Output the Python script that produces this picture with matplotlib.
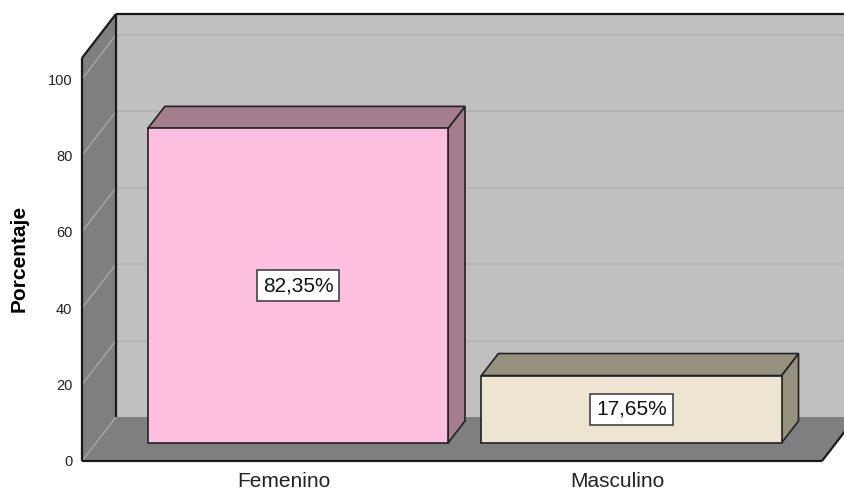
import matplotlib
matplotlib.use("Agg")
import matplotlib.pyplot as plt
from matplotlib.patches import Polygon

categories = ["Femenino", "Masculino"]
values = [82.35, 17.65]
value_labels = ["82,35%", "17,65%"]
yticks = [0, 20, 40, 60, 80, 100]

front_colors = ["#FFC0E0", "#EDE5D2"]
side_colors = ["#A47E8C", "#96917E"]

plt.rcParams['font.family'] = ['Liberation Sans', 'DejaVu Sans']

W, H = 844, 492
fig = plt.figure(figsize=(W / 100, H / 100), dpi=100)
fig.patch.set_facecolor("white")

# axes = front plane of the 3D box (pixel geometry)
L, R, B, T = 82, 822, 461, 56
ax = fig.add_axes([L / W, (H - B) / H, (R - L) / W, (B - T) / H])
px_per_y = 3.82
px_per_x = 333.5
ymin, ymax = 0, (B - T) / px_per_y
xmin = -202 / px_per_x
xmax = xmin + (R - L) / px_per_x
ax.set_xlim(xmin, xmax)
ax.set_ylim(ymin, ymax)
ax.patch.set_visible(False)
for s in ax.spines.values():
    s.set_visible(False)

# full depth offset in data units
DX = 34 / px_per_x
DY = 44 / px_per_y
wall_top = 105.5

def P(x, y, d=0.0):
    return (x + d * DX, y + d * DY)

def poly(pts, fc, ec="none", lw=0, z=1):
    p = Polygon(pts, closed=True, facecolor=fc, edgecolor=ec, linewidth=lw,
                zorder=z, clip_on=False)
    ax.add_patch(p)

big = xmax + 1.0
# back wall
poly([P(xmin, 0, 1), P(big, 0, 1), P(big, wall_top, 1), P(xmin, wall_top, 1)], "#C0C0C0", z=1)
# left wall
poly([P(xmin, 0, 0), P(xmin, 0, 1), P(xmin, wall_top, 1), P(xmin, wall_top, 0)], "#7F7F7F", z=1)
# floor
poly([P(xmin, 0, 0), P(xmax, 0, 0), P(xmax, 0, 1), P(xmin, 0, 1)], "#7F7F7F", z=1)

# gridlines
for t in yticks:
    if t > 0:
        ax.plot([P(xmin, t, 1)[0], P(big, t, 1)[0]], [P(xmin, t, 1)[1]] * 2,
                color="#B2B2B2", lw=1.3, zorder=2, clip_on=False)
    ax.plot([P(xmin, t, 0)[0], P(xmin, t, 1)[0]], [P(xmin, t, 0)[1], P(xmin, t, 1)[1]],
            color="#A8A8A8", lw=1.0, zorder=2, clip_on=False)

# frame edges
k = dict(color="#1A1A1A", lw=1.6, zorder=3, clip_on=False, solid_capstyle="butt")
ax.plot(*zip(P(xmin, 0, 1), P(xmin, wall_top, 1)), **k)
ax.plot(*zip(P(xmin, wall_top, 1), P(big, wall_top, 1)), **k)
ax.plot(*zip(P(xmin, wall_top, 0), P(xmin, wall_top, 1)), **k)
ax.plot(*zip(P(xmin, 0, 0), P(xmin, wall_top, 0)), **k)
ax.plot(*zip(P(xmin, 0, 0), P(xmax, 0, 0)), **k)
ax.plot(*zip(P(xmax, 0, 0), P(xmax, 0, 1)), **k)

# bars
bw = 0.9
f0, f1 = 0.41, 0.91
for i, (v, fc, sc) in enumerate(zip(values, front_colors, side_colors)):
    x0 = i + f0 * DX - bw / 2
    x1 = x0 + bw
    y0 = f0 * DY
    y1 = y0 + v
    dd = f1 - f0
    ek = dict(ec="#222222", lw=1.2, z=5)
    poly([(x1, y0), (x1 + dd * DX, y0 + dd * DY), (x1 + dd * DX, y1 + dd * DY), (x1, y1)], sc, **ek)
    poly([(x0, y1), (x1, y1), (x1 + dd * DX, y1 + dd * DY), (x0 + dd * DX, y1 + dd * DY)], sc, **ek)
    poly([(x0, y0), (x1, y0), (x1, y1), (x0, y1)], fc, **ek)
    ax.text((x0 + x1) / 2, (y0 + y1) / 2, value_labels[i], ha="center", va="center",
            fontsize=15, color="#111111", zorder=6,
            bbox=dict(boxstyle="square,pad=0.28", facecolor="white", edgecolor="#444444", lw=1.2))

ax.set_xticks(range(len(categories)))
ax.set_xticklabels(categories, fontsize=15, color="#222222")
ax.set_yticks(yticks)
ax.set_yticklabels([str(t) for t in yticks], fontsize=10.5, color="#222222")
ax.tick_params(axis="both", length=0)
ax.tick_params(axis="y", pad=7)
ax.tick_params(axis="x", pad=8)
ax.set_ylabel("Porcentaje", fontsize=15, fontweight="bold")
ax.yaxis.set_label_coords((29 - L) / (R - L), 0.5 + (258 - (B + T) / 2) / -(B - T))

fig.savefig("out.png", dpi=100)
